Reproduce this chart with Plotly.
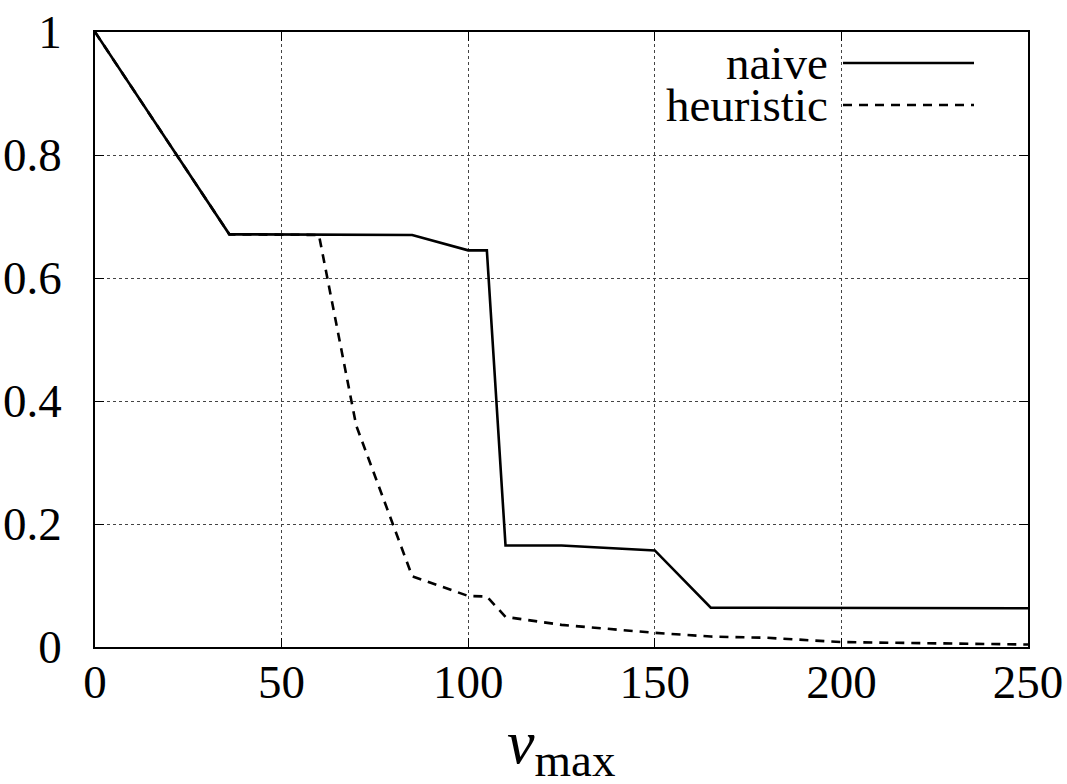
import plotly.graph_objects as go

# Data
naive_x = [0, 36, 85, 100, 105, 110, 125, 150, 165, 250]
naive_y = [1.0, 0.671, 0.670, 0.645, 0.645, 0.165, 0.165, 0.157, 0.064, 0.063]

heur_x = [0, 36, 60, 70, 85, 100, 105, 110, 125, 150, 165, 180, 200, 250]
heur_y = [1.0, 0.671, 0.670, 0.36, 0.115, 0.083, 0.082, 0.049, 0.036, 0.023, 0.017, 0.015, 0.008, 0.004]

x_ticks = [0, 50, 100, 150, 200, 250]
y_ticks = [0, 0.2, 0.4, 0.6, 0.8, 1]
series_names = ["naive", "heuristic"]
x_title = "<i>ν</i><sub><span style='font-size:47px'>max</span></sub>"

FONT = "Liberation Serif"

fig = go.Figure()
fig.add_trace(go.Scatter(x=naive_x, y=naive_y, mode="lines", name=series_names[0],
                         line=dict(color="black", width=2.6), showlegend=False))
fig.add_trace(go.Scatter(x=heur_x, y=heur_y, mode="lines", name=series_names[1],
                         line=dict(color="black", width=2.6, dash="9px,7px"), showlegend=False))

W, H = 1067, 784
L, R, T, B = 95, 39, 32, 137
pw, ph = W - L - R, H - T - B

def px_to_paper_x(px):
    return (px - L) / pw

def px_to_paper_y(py):
    return (H - B - py) / ph

# Opaque key box (gnuplot-style key hides grid)
fig.add_shape(type="rect", xref="paper", yref="paper",
              x0=px_to_paper_x(645), x1=1, y0=px_to_paper_y(132), y1=1,
              fillcolor="white", line=dict(width=0), layer="between")

# Manual key: text right-aligned, sample to its right
rows = [(63, "solid"), (105, "9px,7px")]
for name, (ry, dash) in zip(series_names, rows):
    fig.add_annotation(xref="paper", yref="paper", x=px_to_paper_x(829), y=px_to_paper_y(ry),
                       text=name, showarrow=False, xanchor="right", yanchor="middle",
                       height=36, valign="middle", borderpad=0,
                       font=dict(family=FONT, size=47, color="black"))
    fig.add_shape(type="line", xref="paper", yref="paper",
                  x0=px_to_paper_x(843), x1=px_to_paper_x(974),
                  y0=px_to_paper_y(ry), y1=px_to_paper_y(ry),
                  line=dict(color="black", width=2.6, dash=dash))

# x-axis title as an annotation for precise placement
fig.add_annotation(xref="paper", yref="paper", x=px_to_paper_x(561), y=px_to_paper_y(788),
                   text=x_title, showarrow=False, xanchor="center", yanchor="bottom",
                   font=dict(family=FONT, size=62, color="black"))

axis_common = dict(showline=True, linecolor="black", linewidth=1.5, mirror="ticks",
                   ticks="inside", ticklen=9, tickcolor="black", tickwidth=1,
                   showgrid=True, gridcolor="#444444", gridwidth=1, griddash="dot",
                   zeroline=False, automargin=False,
                   tickfont=dict(family=FONT, size=47, color="black"))

fig.update_xaxes(range=[0, 250], tickvals=x_ticks, ticktext=[str(v) for v in x_ticks],
                 ticklabelstandoff=-7, **axis_common)
fig.update_yaxes(range=[0, 1], tickvals=y_ticks, ticktext=["0", "0.2", "0.4", "0.6", "0.8", "1"],
                 ticklabelstandoff=22, **axis_common)

fig.update_layout(width=W, height=H, margin=dict(l=L, r=R, t=T, b=B),
                  plot_bgcolor="white", paper_bgcolor="white", showlegend=False)

fig.write_html("out.html", config={"displayModeBar": False},
               post_script="document.body.style.margin='0';")
